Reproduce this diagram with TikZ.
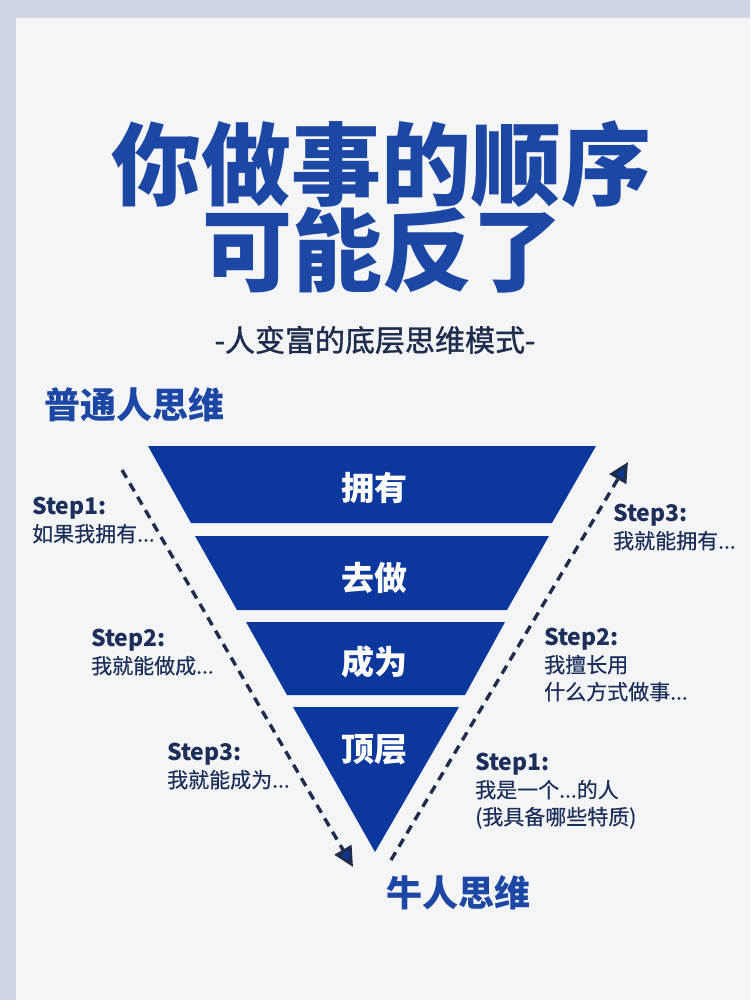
\documentclass[tikz,border=0pt]{standalone}
\usepackage{fontspec}
\usetikzlibrary{arrows.meta}
\newfontfamily\cjk{Noto Sans CJK SC}
\newfontfamily\cjkmed[FakeBold=1.2]{Noto Sans CJK SC}
\newfontfamily\cjkstep[FakeBold=0.4]{Noto Sans CJK SC}
\definecolor{outerbg}{HTML}{CDD4E4}
\definecolor{panelbg}{HTML}{F4F5F7}
\definecolor{titleblue}{HTML}{1D47A5}
\definecolor{funnelblue}{HTML}{0C389E}
\definecolor{navy}{HTML}{1E2D4E}
\definecolor{stepnavy}{HTML}{1B2F5A}
\tikzset{
  title/.style={text=titleblue, inner sep=0pt, font=\cjk\bfseries\fontsize{90}{90}\selectfont},
  subtitle/.style={text=navy, inner sep=0pt, font=\cjkmed\fontsize{30}{30}\selectfont},
  headlabel/.style={text=titleblue, inner sep=0pt, font=\cjk\bfseries\fontsize{36}{36}\selectfont},
  band/.style={fill=funnelblue},
  bandlabel/.style={text=white, inner sep=0pt, font=\cjk\bfseries\fontsize{33}{33}\selectfont},
  steptext/.style={text=stepnavy, inner sep=0pt, anchor=north west, align=left, font=\cjkstep\fontsize{21}{27}\selectfont},
  flowarrow/.style={draw=navy, line width=3.4pt, dash pattern=on 9pt off 6.5pt, -{Triangle[length=20pt,width=19pt,fill=funnelblue]}},
}
\newcommand{\stephead}[1]{{\cjk\bfseries\fontsize{23}{27}\selectfont #1}}
\begin{document}
\begin{tikzpicture}[x=1pt,y=-1pt]
\useasboundingbox (0,0) rectangle (750,1000);
\fill[outerbg] (0,0) rectangle (750,1000);
\fill[panelbg] (16,18) rectangle (750,1000);

% titles
\node[title] (t1) at (381,164) {你做事的顺序};
\node[title] (t2) at (382,250) {可能反了};
\node[subtitle] (sub) at (375,340) {-人变富的底层思维模式-};
\node[headlabel, anchor=west] (ordinary) at (44,405) {普通人思维};
\node[headlabel, anchor=west] (expert) at (386,893) {牛人思维};

% funnel
\fill[band] (148,446) -- (596,446) -- (552,523) -- (191,523) -- cycle;
\fill[band] (195,536) -- (549,536) -- (507,610) -- (237,610) -- cycle;
\fill[band] (246,622) -- (505,622) -- (465,695) -- (287,695) -- cycle;
\fill[band] (293,707) -- (459,707) -- (375,852) -- cycle;
\node[bandlabel] (own) at (374,488) {拥有};
\node[bandlabel] (do) at (374,578) {去做};
\node[bandlabel] (be) at (374,662) {成为};
\node[bandlabel] (top) at (374,750) {顶层};

% arrows
\coordinate (lstart) at (122,470);
\coordinate (lend) at (353,867);
\coordinate (rstart) at (391,860);
\coordinate (rend) at (628,462);
\draw[flowarrow] (lstart) -- (lend);
\draw[flowarrow] (rstart) -- (rend);

% left steps
\node[steptext] (ls1) at (32,497) {\stephead{Step1:}\\如果我拥有...};
\node[steptext] (ls2) at (91,629) {\stephead{Step2:}\\我就能做成...};
\node[steptext] (ls3) at (167,743) {\stephead{Step3:}\\我就能成为...};

% right steps
\node[steptext] (rs3) at (613,504) {\stephead{Step3:}\\我就能拥有...};
\node[steptext] (rs2) at (544,628) {\stephead{Step2:}\\我擅长用\\什么方式做事...};
\node[steptext] (rs1) at (475,753) {\stephead{Step1:}\\我是一个...的人\\(我具备哪些特质)};
\end{tikzpicture}
\end{document}
